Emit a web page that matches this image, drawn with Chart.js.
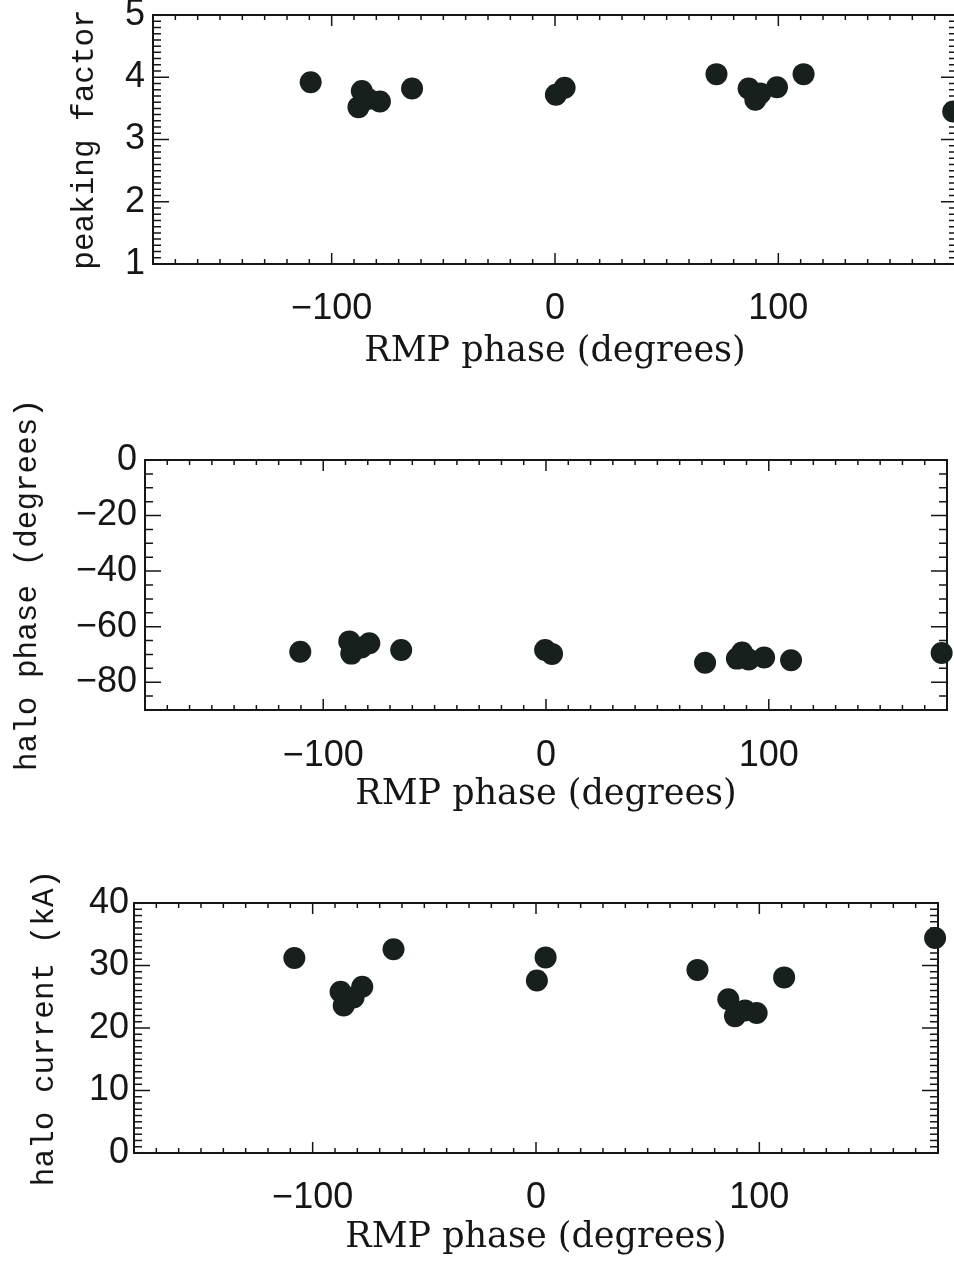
<!DOCTYPE html>
<html>
<head>
<meta charset="utf-8">
<script src="https://cdn.jsdelivr.net/npm/chart.js@4.4.1/dist/chart.umd.min.js"></script>
<style>
  html, body { margin: 0; padding: 0; background: #fff; overflow: hidden; }
  body { width: 954px; height: 1263px; position: relative; }
  canvas { position: absolute; left: 0; }
</style>
</head>
<body>
<canvas id="pfChart" width="970" height="400" style="top:-20px"></canvas>
<canvas id="phaseChart" width="960" height="440" style="top:380px"></canvas>
<canvas id="currentChart" width="960" height="423" style="top:840px"></canvas>
<script>
// Three stacked scatter panels vs RMP phase.
const X_TICKS = [-100, 0, 100];

// peaking factor
const PF_PHASE = [-109.4, -86.5, -88.0, -83.7, -78.4, -64.0, 0.4, 4.3, 72.3, 86.7, 89.7, 91.9, 99.4, 111.3, 178.3];
const PF_VALUE = [3.92, 3.78, 3.52, 3.65, 3.61, 3.82, 3.72, 3.83, 4.05, 3.82, 3.64, 3.74, 3.84, 4.05, 3.45];
const PF_TICKS = [1, 2, 3, 4, 5];

// halo phase (degrees)
const HP_PHASE = [-110.3, -88.3, -87.4, -82.9, -79.3, -65.0, -0.4, 2.7, 71.4, 85.7, 88.0, 91.0, 97.9, 110.0, 177.6];
const HP_VALUE = [-69.0, -65.3, -69.7, -67.5, -66.0, -68.4, -68.4, -69.8, -73.0, -71.5, -69.3, -71.8, -71.1, -72.1, -69.5];
const HP_TICKS = [-80, -60, -40, -20, 0];

// halo current (kA)
const HC_PHASE = [-108.2, -63.8, -87.5, -86.1, -81.7, -77.8, 0.4, 4.3, 72.3, 86.1, 89.1, 93.6, 98.8, 111.1, 178.7];
const HC_VALUE = [31.2, 32.6, 25.8, 23.6, 24.9, 26.6, 27.6, 31.3, 29.3, 24.6, 21.9, 22.8, 22.4, 28.1, 34.4];
const HC_TICKS = [0, 10, 20, 30, 40];

const INK = '#161616';
const DOT = '#17201d';

function fmt(v) {
  return v < 0 ? '\u2212' + Math.abs(v) : String(v);
}

function isMajor(v, major) {
  const r = v / major;
  return Math.abs(r - Math.round(r)) < 1e-6;
}

// frame box with inward ticks on all four sides, IDL style
const frameTicks = {
  id: 'frameTicks',
  beforeDatasetsDraw(chart, args, opts) {
    const { ctx, chartArea: a } = chart;
    const xs = chart.scales.x, ys = chart.scales.y;
    ctx.save();
    ctx.strokeStyle = INK;
    ctx.lineWidth = 2;
    ctx.strokeRect(a.left, a.top, a.right - a.left, a.bottom - a.top);
    ctx.lineWidth = 1.5;
    ctx.beginPath();
    const nx = Math.round((xs.max - xs.min) / opts.xStep);
    for (let i = 0; i <= nx; i++) {
      const v = xs.min + i * opts.xStep;
      const p = xs.getPixelForValue(v);
      const len = isMajor(v, opts.xMajor) ? 11 : 5;
      ctx.moveTo(p, a.bottom); ctx.lineTo(p, a.bottom - len);
      ctx.moveTo(p, a.top); ctx.lineTo(p, a.top + len);
    }
    const ny = Math.round((ys.max - ys.min) / opts.yStep);
    for (let i = 0; i <= ny; i++) {
      const v = ys.min + i * opts.yStep;
      const p = ys.getPixelForValue(v);
      const len = isMajor(v, opts.yMajor) ? 16 : 8;
      ctx.moveTo(a.left, p); ctx.lineTo(a.left + len, p);
      ctx.moveTo(a.right, p); ctx.lineTo(a.right - len, p);
    }
    ctx.stroke();
    ctx.restore();
  }
};

function makePanel(id, cfg) {
  const canvas = document.getElementById(id);
  return new Chart(canvas, {
    type: 'scatter',
    data: {
      datasets: [{
        data: cfg.phase.map(function (p, i) { return { x: p, y: cfg.value[i] }; }),
        backgroundColor: DOT,
        borderWidth: 0,
        pointRadius: 11,
        pointHoverRadius: 11,
        clip: false,
      }],
    },
    options: {
      responsive: false,
      animation: false,
      events: [],
      layout: { padding: { top: cfg.top, right: cfg.right, left: 0, bottom: 0 } },
      plugins: {
        legend: { display: false },
        tooltip: { enabled: false },
        frameTicks: cfg.ticks,
      },
      scales: {
        x: {
          type: 'linear',
          min: -180,
          max: 180,
          afterBuildTicks: function (s) { s.ticks = X_TICKS.map(function (v) { return { value: v }; }); },
          afterFit: function (s) { s.height = cfg.xHeight; },
          grid: { display: false, drawTicks: false },
          border: { display: false },
          ticks: {
            padding: cfg.xTickPad,
            color: INK,
            font: { family: "'Liberation Sans', Arial, sans-serif", size: 36 },
            maxRotation: 0,
            callback: fmt,
          },
          title: {
            display: true,
            text: 'RMP phase (degrees)',
            color: INK,
            font: { family: "'DejaVu Serif', serif", size: 35 },
            padding: { top: 0, bottom: cfg.xTitlePad },
          },
        },
        y: {
          type: 'linear',
          min: cfg.min,
          max: cfg.max,
          afterBuildTicks: function (s) { s.ticks = cfg.yTicks.map(function (v) { return { value: v }; }); },
          afterFit: function (s) { s.width = cfg.left; },
          grid: { display: false, drawTicks: false },
          border: { display: false },
          ticks: {
            padding: cfg.yTickPad,
            color: INK,
            font: { family: "'Liberation Sans', Arial, sans-serif", size: 36 },
            callback: fmt,
          },
          title: {
            display: true,
            text: cfg.yTitle,
            color: INK,
            font: { family: "'Liberation Mono', 'DejaVu Sans Mono', monospace", size: 31 },
            padding: { top: cfg.yTitlePad, bottom: 0 },
          },
        },
      },
    },
    plugins: [frameTicks],
  });
}

makePanel('pfChart', {
  phase: PF_PHASE, value: PF_VALUE, yTicks: PF_TICKS,
  min: 1, max: 5, yTitle: 'peaking factor',
  top: 35, right: 13, left: 153, xHeight: 116,
  xTickPad: 23, xTitlePad: 7, yTickPad: 8, yTitlePad: 66,
  ticks: { xStep: 10, xMajor: 100, yStep: 0.1, yMajor: 1 },
});

makePanel('phaseChart', {
  phase: HP_PHASE, value: HP_VALUE, yTicks: HP_TICKS,
  min: -90, max: 0, yTitle: 'halo phase (degrees)',
  top: 80, right: 13, left: 145, xHeight: 110,
  xTickPad: 24, xTitlePad: 4, yTickPad: 8, yTitlePad: 9,
  ticks: { xStep: 10, xMajor: 100, yStep: 5, yMajor: 20 },
});

makePanel('currentChart', {
  phase: HC_PHASE, value: HC_VALUE, yTicks: HC_TICKS,
  min: 0, max: 40, yTitle: 'halo current (kA)',
  top: 63, right: 22, left: 134, xHeight: 110,
  xTickPad: 23, xTitlePad: 4, yTickPad: 5, yTitlePad: 26,
  ticks: { xStep: 10, xMajor: 100, yStep: 1, yMajor: 10 },
});
</script>
</body>
</html>
